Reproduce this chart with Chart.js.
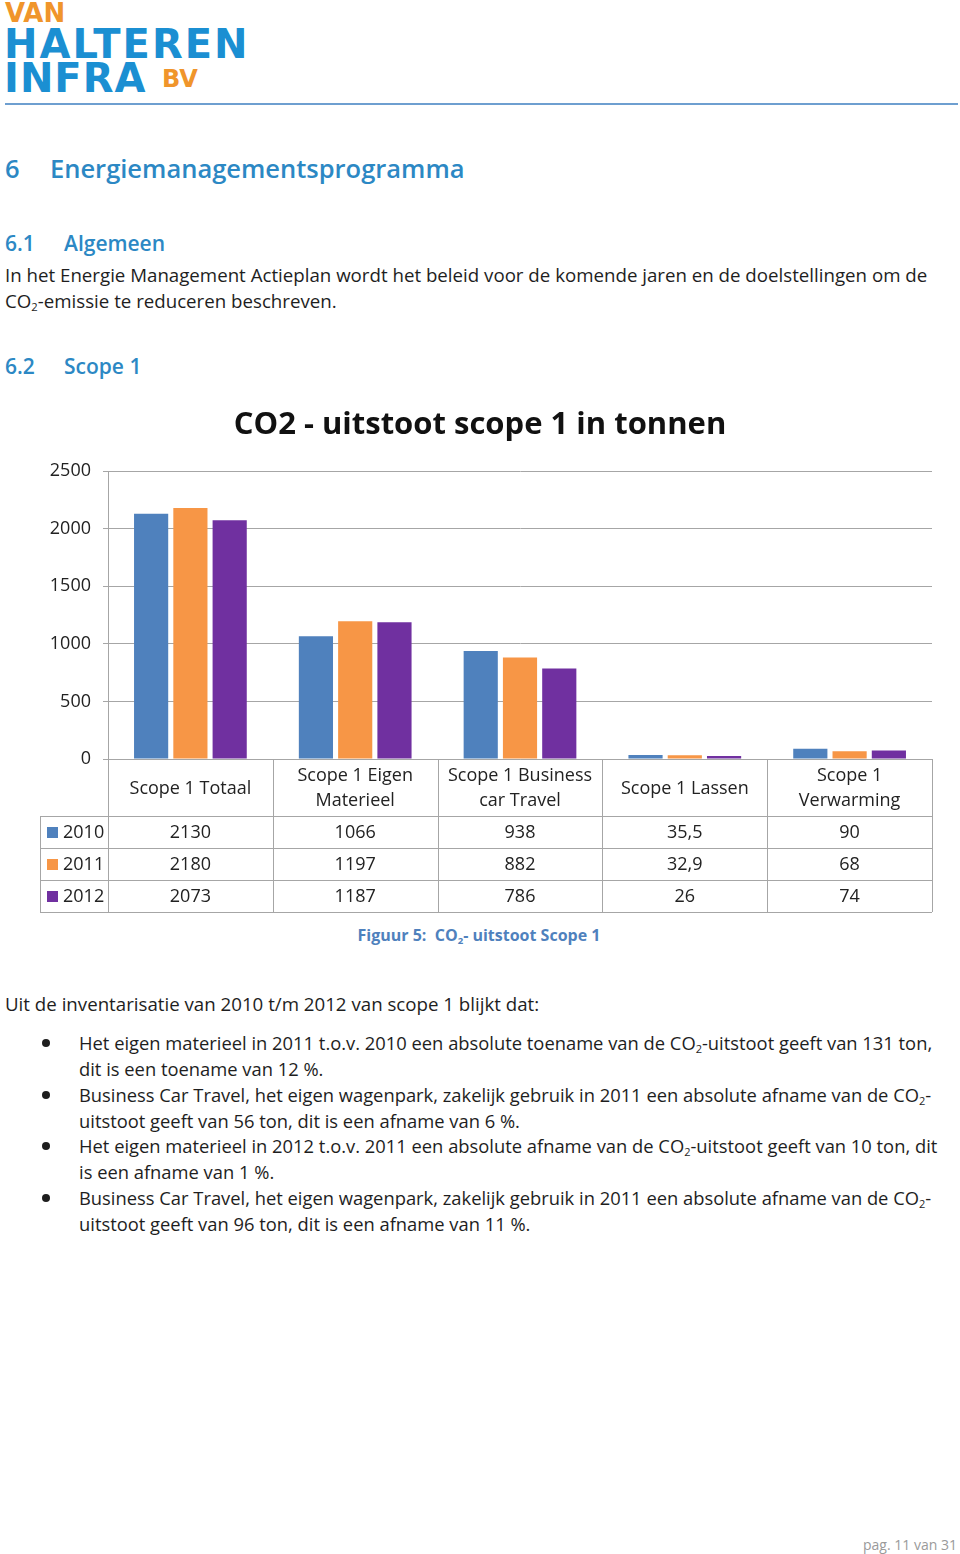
<!DOCTYPE html>
<html>
<head>
<meta charset="utf-8">
<script src="https://cdn.jsdelivr.net/npm/chart.js@4.4.0/dist/chart.umd.min.js"></script>
<style>
body { margin:0; width:960px; height:1554px; position:relative; background:#fff; font-family:'Open Sans', sans-serif; color:#1e1e1e; overflow:hidden; }
.abs { position:absolute; white-space:nowrap; }
.logo { font-family:'DejaVu Sans', sans-serif; font-weight:bold; line-height:1; }
.h1 { color:#2c88c4; font-size:25.5px; font-weight:600; line-height:36px; }
.h2 { color:#2c88c4; font-size:21px; font-weight:600; line-height:30px; }
.txt { font-size:18.7px; line-height:25.5px; }
.btxt { font-size:18.35px; line-height:25.5px; }
sub { font-size:60%; vertical-align:-0.3em; line-height:0; }
.bul { position:absolute; left:42px; width:8px; height:8px; border-radius:50%; background:#1e1e1e; }
#wrap { position:absolute; left:0; top:390px; width:960px; height:530px; }
</style>
</head>
<body>
<div class="abs logo" style="left:5px;top:0px;font-size:26px;color:#f0952b;">VAN</div>
<div class="abs logo" style="left:4px;top:24px;font-size:40px;color:#1b8fd2;letter-spacing:2px;">HALTEREN</div>
<div class="abs logo" style="left:4px;top:58px;font-size:40px;color:#1b8fd2;letter-spacing:1px;">INFRA</div>
<div class="abs logo" style="left:162px;top:67px;font-size:24px;color:#f0952b;">BV</div>
<div class="abs" style="left:5px;top:103px;width:953px;height:2px;background:#6e9fd0;"></div>

<div class="abs h1" style="left:5px;top:150px;">6</div>
<div class="abs h1" style="left:50px;top:150px;">Energiemanagementsprogramma</div>

<div class="abs h2" style="left:5px;top:228px;">6.1</div>
<div class="abs h2" style="left:64px;top:228px;">Algemeen</div>
<div class="abs txt" style="left:5px;top:262px;">In het Energie Management Actieplan wordt het beleid voor de komende jaren en de doelstellingen om de<br>CO<sub>2</sub>-emissie te reduceren beschreven.</div>

<div class="abs h2" style="left:5px;top:351px;">6.2</div>
<div class="abs h2" style="left:64px;top:351px;">Scope 1</div>

<div id="wrap"><canvas id="co2Chart" width="960" height="530"></canvas></div>

<div class="abs" style="left:0;top:922px;width:958px;text-align:center;font-size:16px;font-weight:bold;color:#4f81bd;line-height:26px;">Figuur 5:&nbsp; CO<sub>2</sub>- uitstoot Scope 1</div>

<div class="abs txt" style="left:5px;top:991px;">Uit de inventarisatie van 2010 t/m 2012 van scope 1 blijkt dat:</div>

<div class="bul" style="top:1039px;"></div>
<div class="abs btxt" style="left:79px;top:1030px;">Het eigen materieel in 2011 t.o.v. 2010 een absolute toename van de CO<sub>2</sub>-uitstoot geeft van 131 ton,<br>dit is een toename van 12 %.</div>
<div class="bul" style="top:1091px;"></div>
<div class="abs btxt" style="left:79px;top:1082px;">Business Car Travel, het eigen wagenpark, zakelijk gebruik in 2011 een absolute afname van de CO<sub>2</sub>-<br>uitstoot geeft van 56 ton, dit is een afname van 6 %.</div>
<div class="bul" style="top:1142px;"></div>
<div class="abs btxt" style="left:79px;top:1133px;">Het eigen materieel in 2012 t.o.v. 2011 een absolute afname van de CO<sub>2</sub>-uitstoot geeft van 10 ton, dit<br>is een afname van 1 %.</div>
<div class="bul" style="top:1194px;"></div>
<div class="abs btxt" style="left:79px;top:1185px;">Business Car Travel, het eigen wagenpark, zakelijk gebruik in 2011 een absolute afname van de CO<sub>2</sub>-<br>uitstoot geeft van 96 ton, dit is een afname van 11 %.</div>

<div class="abs" style="left:863px;top:1535px;font-size:14px;color:#9a9a9a;line-height:20px;">pag. 11 van 31</div>

<script>
const categories = [['Scope 1 Totaal'], ['Scope 1 Eigen', 'Materieel'], ['Scope 1 Business', 'car Travel'], ['Scope 1 Lassen'], ['Scope 1', 'Verwarming']];
const years = ['2010', '2011', '2012'];
const values2010 = [2130, 1066, 938, 35.5, 90];
const values2011 = [2180, 1197, 882, 32.9, 68];
const values2012 = [2073, 1187, 786, 26, 74];
const yTicks = [0, 500, 1000, 1500, 2000, 2500];
const colors = ['#4f81bd', '#f79646', '#7030a0'];

const allValues = [values2010, values2011, values2012];
const fmt = v => String(v).replace('.', ',');

// data table under the plot, like the Excel chart
const dataTable = {
    id: 'dataTable',
    afterDraw(chart) {
        const ctx = chart.ctx;
        const xs = chart.scales.x;
        const top = chart.chartArea.bottom;
        const headH = 57, rowH = 32, left = 40;
        const n = categories.length;
        const colW = (xs.right - xs.left) / n;
        const bottom = top + headH + rowH * years.length;

        ctx.save();
        ctx.strokeStyle = '#a6a6a6';
        ctx.lineWidth = 1;
        ctx.beginPath();
        for (let r = 0; r <= years.length; r++) {
            const y = Math.round(top + headH + r * rowH) + 0.5;
            ctx.moveTo(left, y);
            ctx.lineTo(xs.right, y);
        }
        for (let i = 0; i <= n; i++) {
            const x = Math.round(xs.left + i * colW) + 0.5;
            ctx.moveTo(x, top);
            ctx.lineTo(x, bottom);
        }
        ctx.moveTo(left + 0.5, top + headH);
        ctx.lineTo(left + 0.5, bottom);
        ctx.stroke();

        ctx.fillStyle = '#222';
        ctx.font = '18px "Open Sans"';
        ctx.textAlign = 'center';
        ctx.textBaseline = 'middle';
        categories.forEach((lines, i) => {
            const cx = xs.getPixelForValue(i);
            const cy = top + headH / 2 + 1;
            lines.forEach((t, k) => {
                ctx.fillText(t, cx, cy + (k - (lines.length - 1) / 2) * 25);
            });
        });

        years.forEach((yr, r) => {
            const cy = top + headH + r * rowH + rowH / 2 + 1;
            ctx.fillStyle = colors[r];
            ctx.fillRect(left + 7, Math.round(cy - 6), 11, 11);
            ctx.fillStyle = '#222';
            ctx.textAlign = 'left';
            ctx.fillText(yr, left + 23, cy);
            ctx.textAlign = 'center';
            allValues[r].forEach((v, i) => {
                ctx.fillText(fmt(v), xs.getPixelForValue(i), cy);
            });
        });
        ctx.restore();
    }
};

const ctxBar = document.getElementById('co2Chart').getContext('2d');
const co2Chart = new Chart(ctxBar, {
    type: 'bar',
    data: {
        labels: categories.map(c => c.join(' ')),
        datasets: years.map((yr, r) => ({
            label: yr,
            data: allValues[r],
            backgroundColor: colors[r],
            borderWidth: 0,
            categoryPercentage: 0.715,
            barPercentage: 0.87
        }))
    },
    options: {
        responsive: false,
        animation: false,
        layout: { padding: { left: 28, right: 28, top: 3, bottom: 8 } },
        plugins: {
            legend: { display: false },
            tooltip: { enabled: false },
            title: {
                display: true,
                text: 'CO2 - uitstoot scope 1 in tonnen',
                color: '#111',
                font: { family: 'Open Sans', size: 31, weight: 'bold' },
                padding: { top: 14, bottom: 27 }
            }
        },
        scales: {
            x: {
                ticks: { display: false },
                grid: { display: false },
                border: { display: true, color: '#a6a6a6' },
                afterFit: s => { s.height = 153; }
            },
            y: {
                min: 0,
                max: 2500,
                afterBuildTicks: s => { s.ticks = yTicks.map(v => ({ value: v })); },
                ticks: { color: '#222', padding: 12, font: { family: 'Open Sans', size: 18 }, callback: v => String(v) },
                grid: { color: '#a6a6a6', tickLength: 5 },
                border: { color: '#a6a6a6' },
                afterFit: s => { s.width = 80; }
            }
        }
    },
    plugins: [dataTable]
});
</script>
</body>
</html>
